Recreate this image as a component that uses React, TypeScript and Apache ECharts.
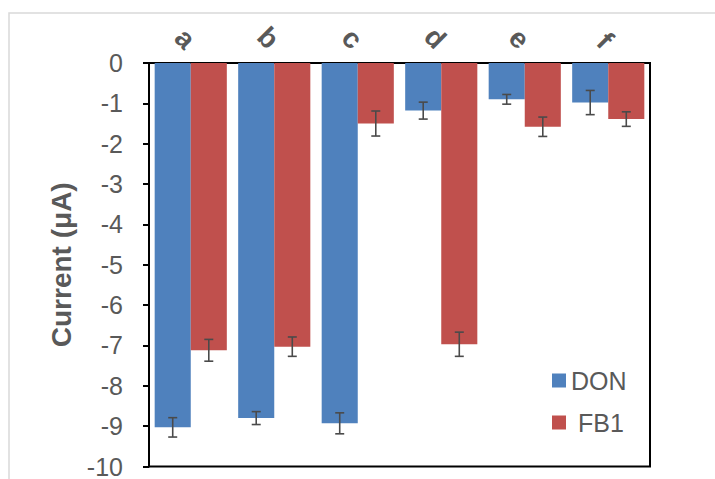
import React, { useEffect, useRef } from "react";
import * as echarts from "echarts";

// Peak current per sample, two analytes, with standard-deviation error bars
const categories = ["a", "b", "c", "d", "e", "f"];
const donValues = [-9.03, -8.8, -8.93, -1.18, -0.9, -0.98];
const donErrors = [0.24, 0.16, 0.26, 0.21, 0.12, 0.3];
const fb1Values = [-7.12, -7.03, -1.5, -6.97, -1.58, -1.39];
const fb1Errors = [0.27, 0.24, 0.31, 0.3, 0.24, 0.18];
const yTicks = { min: -10, max: 0, interval: 1 };

const FONT = "'Liberation Sans', Arial, sans-serif";
const GRAY = "#595959";
const CAT_GAP = 0.136;

function errorSeries(values: number[], errors: number[], side: number) {
  return {
    type: "custom",
    silent: true,
    z: 10,
    data: values.map((v, i) => [i, v, errors[i]]),
    renderItem: (_params: any, api: any) => {
      const idx = api.value(0);
      const v = api.value(1);
      const e = api.value(2);
      const band = api.size([1, 0])[0];
      const barW = (band * (1 - CAT_GAP)) / 2;
      const cx = api.coord([idx, v])[0] + (side * barW) / 2;
      const yHi = api.coord([idx, v + e])[1];
      const yLo = api.coord([idx, v - e])[1];
      const cap = 4.5;
      const style = { stroke: "#4a4a4a", lineWidth: 1.6 };
      return {
        type: "group",
        children: [
          { type: "line", shape: { x1: cx, y1: yHi, x2: cx, y2: yLo }, style },
          { type: "line", shape: { x1: cx - cap, y1: yHi, x2: cx + cap, y2: yHi }, style },
          { type: "line", shape: { x1: cx - cap, y1: yLo, x2: cx + cap, y2: yLo }, style },
        ],
      };
    },
  };
}

export default function App() {
  const ref = useRef<HTMLDivElement>(null);

  useEffect(() => {
    if (!ref.current) return;
    const chart = echarts.init(ref.current, undefined, { renderer: "svg" });
    chart.setOption({
      animation: false,
      backgroundColor: "#ffffff",
      textStyle: { fontFamily: FONT },
      graphic: [
        {
          type: "rect",
          shape: { x: 9, y: 13, width: 800, height: 600 },
          style: { fill: "none", stroke: "#d9d9d9", lineWidth: 1.5 },
          silent: true,
        },
      ],
      grid: {
        left: 149,
        right: 65,
        top: 63,
        bottom: 11,
        show: true,
        borderColor: "#000",
        borderWidth: 2,
        backgroundColor: "transparent",
      },
      legend: {
        orient: "vertical",
        left: 547,
        top: 363,
        itemWidth: 14,
        itemHeight: 14,
        itemGap: 17,
        icon: "rect",
        formatter: (name: string) => (name === "FB1" ? " FB1" : name),
        textStyle: { fontSize: 25, color: GRAY, fontFamily: FONT },
        data: ["DON", "FB1"],
      },
      xAxis: {
        type: "category",
        position: "top",
        data: categories,
        axisLine: { show: true, lineStyle: { color: "#000", width: 2 } },
        axisTick: { show: false },
        axisLabel: {
          rotate: -45,
          margin: 19,
          fontSize: 28,
          fontWeight: "bold",
          color: GRAY,
          fontFamily: FONT,
        },
      },
      yAxis: {
        type: "value",
        min: yTicks.min,
        max: yTicks.max,
        interval: yTicks.interval,
        name: "Current (μA)",
        nameLocation: "middle",
        nameGap: 72,
        nameTextStyle: { fontSize: 28, fontWeight: "bold", color: GRAY, fontFamily: FONT },
        splitLine: { show: false },
        axisLine: { show: true, lineStyle: { color: "#000", width: 2 } },
        axisTick: { show: true, inside: false, length: 6, lineStyle: { color: "#000", width: 2 } },
        axisLabel: { fontSize: 25, color: GRAY, margin: 26, fontFamily: FONT },
      },
      series: [
        {
          name: "DON",
          type: "bar",
          data: donValues,
          barGap: "0%",
          barCategoryGap: CAT_GAP * 100 + "%",
          itemStyle: { color: "#4F81BD" },
        },
        {
          name: "FB1",
          type: "bar",
          data: fb1Values,
          itemStyle: { color: "#C0504D" },
        },
        errorSeries(donValues, donErrors, -1),
        errorSeries(fb1Values, fb1Errors, 1),
      ],
    });
    return () => chart.dispose();
  }, []);

  return (
    <div
      ref={ref}
      style={{ position: "fixed", left: 0, top: 0, width: 715, height: 479, background: "#fff" }}
    />
  );
}
